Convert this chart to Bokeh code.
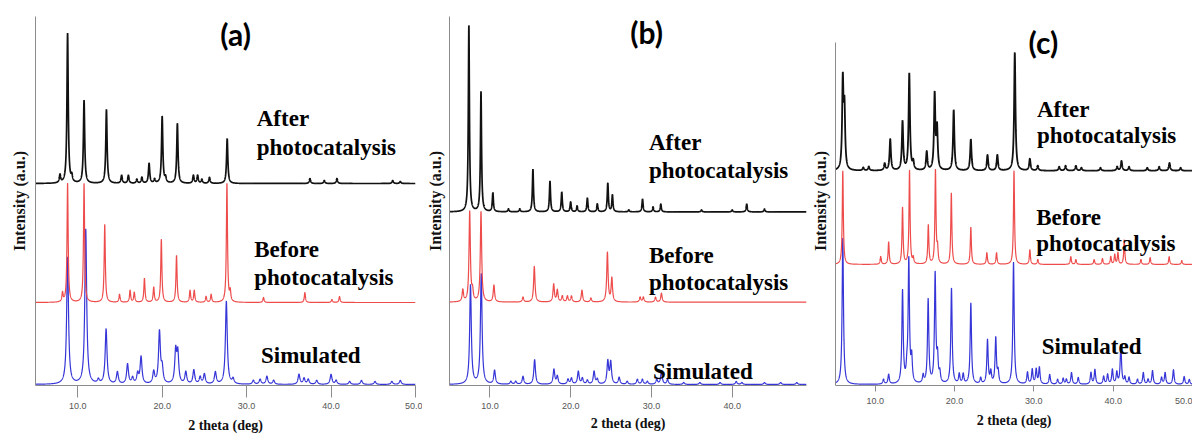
import numpy as np
from bokeh.plotting import figure
from bokeh.models import FixedTicker, Label, Range1d, LinearAxis
from bokeh.layouts import row
from bokeh.embed import file_html
from bokeh.resources import INLINE

# ---------------- data (peak positions in 2-theta deg, intensities in a.u.) -------------
tick_values = [10, 20, 30, 40, 50]
tick_labels = ["10.0", "20.0", "30.0", "40.0", "50.0"]
x_title = "2 theta (deg)"
y_title = "Intensity (a.u.)"

# panel (a)
a_after_pos = [7.9, 8.8, 9.3, 10.75, 13.4, 15.2, 16.0, 17.0, 17.6, 18.45, 19.1, 20.0, 20.4,
               21.8, 23.7, 24.2, 24.7, 25.6, 27.7, 37.5, 39.2, 40.7, 47.3, 48.2]
a_after_int = [8, 150, 6, 83, 74, 8, 8, 4, 6, 20, 4, 67, 5, 60, 8, 8, 4, 6, 45, 5, 3, 5, 3, 2]
a_before_pos = [8.2, 8.8, 10.75, 13.2, 14.95, 16.2, 16.7, 17.9, 19.0, 19.9, 21.7, 23.3, 23.8,
                25.2, 25.8, 27.67, 28.06, 32.0, 36.9, 40.1, 41.0]
a_before_int = [9, 119, 119, 78, 8, 12, 10, 24, 15, 63, 47, 12, 12, 6, 8, 119, 10, 5, 10, 3, 6]
a_sim_pos = [8.8, 10.95, 12.45, 13.36, 14.7, 15.9, 16.5, 17.1, 17.5, 19.0, 19.68, 20.0, 21.6,
             21.85, 22.8, 23.75, 24.5, 25.0, 26.3, 27.6, 28.4, 30.8, 31.6, 32.4, 33.2, 36.2,
             36.8, 37.3, 38.3, 40.0, 40.6, 42.2, 43.6, 45.2, 47.2, 48.2]
a_sim_int = [127, 155, 4, 55, 12, 20, 6, 10, 27, 12, 52, 15, 32, 30, 12, 14, 7, 10, 12, 83, 5,
             4, 5, 8, 4, 10, 6, 5, 4, 10, 4, 3, 4, 3, 3, 4]

# panel (b)
b_after_pos = [7.4, 8.9, 10.37, 12.3, 13.7, 15.33, 17.44, 18.9, 20.0, 20.8, 22.07, 23.3, 24.6,
               25.17, 27.2, 28.9, 30.2, 31.16, 36.2, 40.0, 41.8, 44.0]
b_after_int = [188, 121, 19, 3, 3, 43, 31, 20, 10, 6, 14, 8, 29, 17, 2, 13, 5, 8, 2, 2, 8, 3]
b_before_pos = [6.65, 7.5, 7.85, 8.9, 10.5, 14.1, 15.5, 17.9, 18.35, 18.97, 19.6, 20.1, 21.4,
                22.5, 24.55, 25.1, 28.6, 29.0, 30.5, 31.24]
b_before_int = [12, 91, 10, 91, 17, 5, 36, 18, 12, 6, 6, 6, 12, 4, 50, 24, 5, 5, 5, 9]
b_sim_pos = [7.6, 8.93, 10.58, 12.6, 13.2, 14.1, 15.54, 17.93, 18.35, 19.67, 20.1, 20.95, 21.45,
             22.07, 22.9, 23.3, 24.6, 24.96, 26.0, 27.0, 28.26, 28.88, 29.5, 30.66, 31.24, 32.0,
             34.0, 36.0, 38.5, 40.5, 41.2, 44.0, 46.0, 48.0]
b_sim_int = [100, 111, 14, 3, 3, 8, 25, 15, 8, 5, 6, 13, 6, 4, 13, 5, 23, 22, 7, 3, 5, 5, 3, 5,
             13, 5, 2, 2, 2, 3, 2, 2, 2, 2]

# panel (c)
c_after_pos = [5.92, 6.13, 8.5, 9.2, 11.2, 11.9, 13.45, 14.3, 14.8, 16.5, 17.5, 17.8, 19.9, 22.06,
               24.16, 25.4, 27.6, 29.5, 30.5, 33.2, 34.0, 35.3, 36.0, 38.4, 40.5, 41.05, 42.0,
               44.3, 45.8, 47.1, 48.5]
c_after_int = [90, 60, 3, 4, 7, 32, 50, 99, 8, 19, 77, 42, 62, 32, 16, 16, 121, 12, 5, 4, 5, 5,
               3, 3, 4, 10, 4, 3, 4, 8, 3]
c_before_pos = [5.92, 10.7, 11.7, 13.45, 14.33, 14.8, 16.7, 17.6, 17.86, 19.6, 22.06, 24.08, 25.3,
                27.5, 29.5, 30.5, 34.66, 35.3, 37.6, 38.65, 39.7, 40.2, 40.6, 41.4, 43.5, 44.66,
                47.06, 48.65]
c_before_int = [96, 8, 23, 58, 96, 6, 40, 96, 15, 73, 38, 12, 12, 96, 15, 5, 8, 5, 5, 6, 8, 10,
                12, 25, 5, 7, 8, 4]
c_sim_pos = [5.92, 11.05, 11.7, 13.45, 14.0, 14.24, 14.6, 16.05, 16.68, 17.56, 17.86, 18.15,
             19.62, 20.6, 21.1, 22.06, 23.3, 24.16, 24.58, 25.2, 25.5, 27.44, 29.2, 29.8, 30.3,
             30.7, 32.0, 33.0, 33.7, 34.1, 34.75, 35.6, 37.2, 37.7, 38.8, 39.3, 39.9, 40.46,
             40.97, 41.47, 42.0, 43.07, 43.8, 44.4, 44.96, 46.1, 46.55, 47.6, 48.95, 49.6]
c_sim_int = [150, 5, 10, 95, 12, 126, 25, 8, 86, 112, 25, 10, 98, 10, 10, 83, 6, 45, 12, 47, 12,
             125, 12, 15, 15, 17, 10, 5, 6, 5, 12, 7, 12, 15, 8, 10, 15, 12, 40, 7, 7, 5, 12, 5,
             14, 7, 12, 15, 8, 5]

# ---------------- styling ----------------
COL = {"after": "#111111", "before": "#ee4b4b", "sim": "#3535d8"}
AXIS_COL = "#8c8c8c"
SERIF = "Liberation Serif"
AXIS_SERIF = "'Liberation Serif', 'Times New Roman', serif"
FIG_H = 440


def profile(x, pos, inten, hw):
    y = np.zeros_like(x)
    for p_, h_ in zip(pos, inten):
        y += h_ / (1.0 + ((x - p_) / hw) ** 2)
    return y


def blank_axis(ax):
    ax.ticker = FixedTicker(ticks=[])
    ax.major_tick_out = 0
    ax.major_tick_in = 0
    ax.minor_tick_out = 0
    ax.minor_tick_in = 0
    ax.major_label_text_font_size = "0px"
    ax.major_label_standoff = 0


def label_axis(text, bounds, standoff, size):
    ax = LinearAxis(axis_label=text)
    blank_axis(ax)
    ax.axis_line_color = None
    ax.bounds = bounds
    ax.axis_label_text_font = AXIS_SERIF
    ax.axis_label_text_font_style = "bold"
    ax.axis_label_text_font_size = size
    ax.axis_label_text_color = "#111111"
    ax.axis_label_standoff = standoff
    return ax


def make_panel(width, left_border, right_border, bottom_border, x_end, axis_top,
               traces, labels, title, title_xy, tick_out, label_standoff,
               xlab_bounds, xlab_standoff, ylab_bounds, ylab_standoff):
    frame_h = FIG_H - 16 - bottom_border
    p = figure(width=width, height=FIG_H, output_backend="svg", toolbar_location=None,
               x_range=Range1d(5, x_end), y_range=Range1d(0, frame_h),
               min_border_left=left_border, min_border_right=right_border, min_border_top=16,
               min_border_bottom=bottom_border)
    p.outline_line_color = None
    p.grid.visible = False
    p.background_fill_color = "white"

    x = np.linspace(5, x_end, 5000)
    for pos, inten, offset, hw, col, lw in traces:
        p.line(x, offset + profile(x, pos, inten, hw), line_color=col, line_width=lw)

    xa = p.xaxis[0]
    xa.ticker = FixedTicker(ticks=tick_values)
    xa.major_label_overrides = {t: s for t, s in zip(tick_values, tick_labels)}
    xa.major_tick_out = tick_out
    xa.major_tick_in = 0
    xa.minor_tick_out = 0
    xa.minor_tick_in = 0
    xa.axis_line_color = AXIS_COL
    xa.major_tick_line_color = AXIS_COL
    xa.major_label_text_font = "'Liberation Sans Narrow', 'Liberation Sans', sans-serif"
    xa.major_label_text_font_size = "9px"
    xa.major_label_text_color = "#555555"
    xa.major_label_standoff = label_standoff

    ya = p.yaxis[0]
    blank_axis(ya)
    ya.axis_line_color = AXIS_COL
    ya.bounds = (0, axis_top if axis_top else frame_h)

    p.add_layout(label_axis(x_title, xlab_bounds, xlab_standoff, "14px"), "below")
    p.add_layout(label_axis(y_title, ylab_bounds, ylab_standoff, "16px"), "left")

    for txt, lx, ly in labels:
        p.add_layout(Label(x=lx, y=ly, text=txt, text_font=SERIF, text_font_style="bold",
                           text_font_size="23px", text_color="#000000",
                           text_baseline="alphabetic", text_align="left"))
    p.add_layout(Label(x=title_xy[0], y=title_xy[1], text=title, text_font="Lato",
                       text_font_style="bold", text_font_size="30px", text_color="#000000",
                       text_baseline="middle", text_align="center"))
    return p


pa = make_panel(
    422, 35, 7, 55, 50, None,
    [(a_sim_pos, a_sim_int, 1, 0.13, COL["sim"], 1.2),
     (a_before_pos, a_before_int, 83, 0.08, COL["before"], 1.2),
     (a_after_pos, a_after_int, 202, 0.09, COL["after"], 1.7)],
    [("After", 31.2, 267), ("photocatalysis", 31.2, 238),
     ("Before", 30.9, 136), ("photocatalysis", 30.9, 108),
     ("Simulated", 31.7, 30)],
    "(a)", (28.7, 352), 12, 5, (7.9, 50), 6, (0, 316), 8)

pb = make_panel(
    386, 27, 2, 52, 49.2, None,
    [(b_sim_pos, b_sim_int, 1, 0.12, COL["sim"], 1.2),
     (b_before_pos, b_before_int, 84, 0.1, COL["before"], 1.2),
     (b_after_pos, b_after_int, 175, 0.08, COL["after"], 1.7)],
    [("After", 29.7, 245), ("photocatalysis", 29.7, 217),
     ("Before", 29.7, 131), ("photocatalysis", 29.7, 104),
     ("Simulated", 30.2, 14)],
    "(b)", (29.4, 356), 12, 5, (9.74, 49.2), 4, (0, 350), 6)

pc = make_panel(
    384, 27, 0, 46, 50, 351,
    [(c_sim_pos, c_sim_int, 1, 0.1, COL["sim"], 1.2),
     (c_before_pos, c_before_int, 124, 0.08, COL["before"], 1.2),
     (c_after_pos, c_after_int, 220, 0.1, COL["after"], 1.8)],
    [("After", 30.4, 283), ("photocatalysis", 30.4, 256),
     ("Before", 30.3, 172), ("photocatalysis", 30.3, 145),
     ("Simulated", 31.0, 40)],
    "(c)", (31.2, 352), 6, 6, (6.16, 50), 6, (0, 308), 7)

layout = row(pa, pb, pc)
open("out.html", "w").write(file_html(layout, INLINE))
